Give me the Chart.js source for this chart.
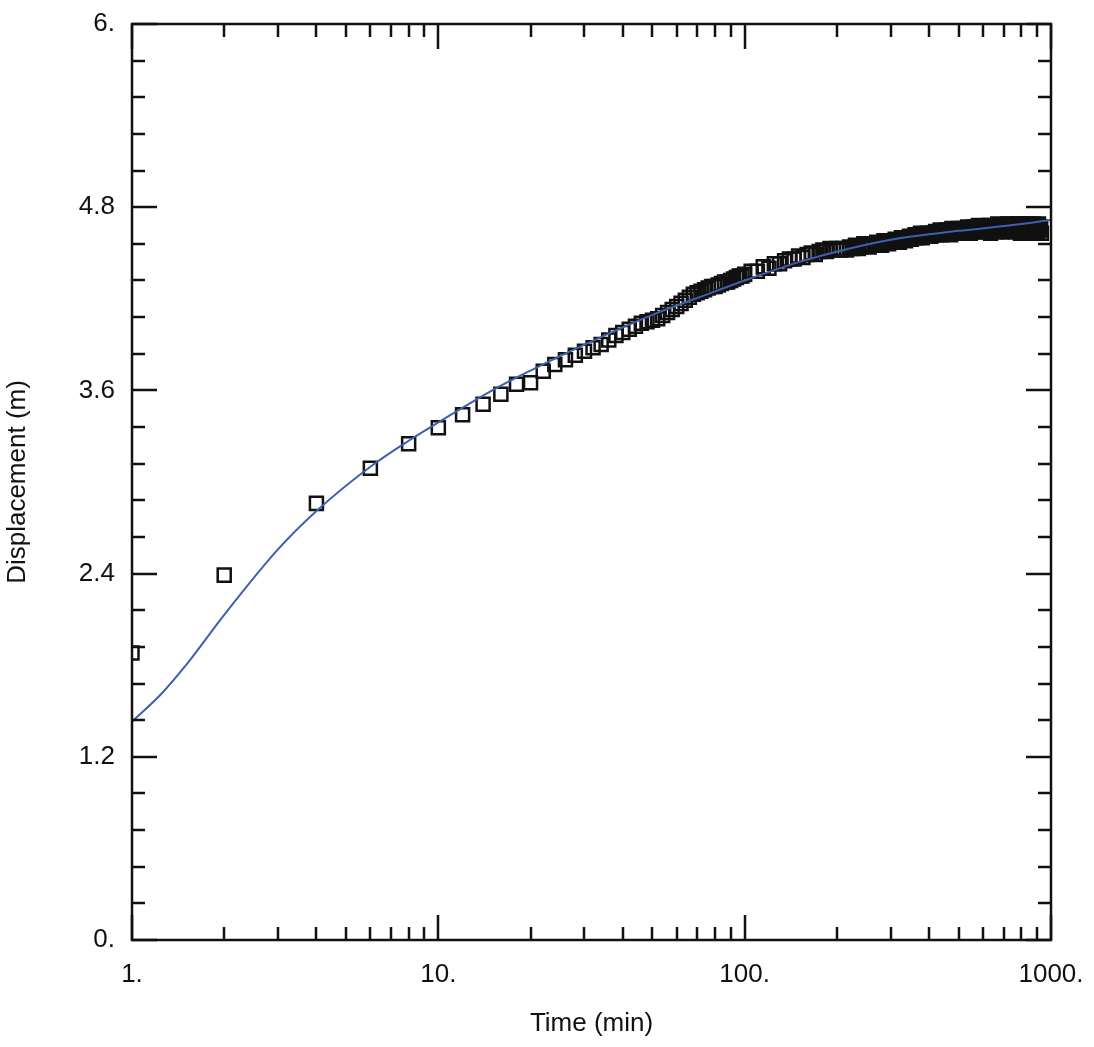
<!DOCTYPE html>
<html>
<head>
<meta charset="utf-8">
<script src="https://cdn.jsdelivr.net/npm/chart.js@4/dist/chart.umd.min.js"></script>
<style>
  html, body { margin: 0; padding: 0; background: #fff; }
  #wrap { width: 1094px; height: 1047px; }
</style>
</head>
<body>
<div id="wrap"><canvas id="c"></canvas></div>
<script>
// Observed displacement (squares)
const obsTime = [
  1, 2, 4, 6, 8, 10, 12, 14, 16, 18, 20, 22, 24, 26, 28, 30,
  32, 34, 36, 38, 40, 42, 44, 46, 48, 50, 52, 54, 56, 58, 60, 62, 64, 66, 68, 70,
  72, 74, 76, 78, 80, 82, 84, 86, 88, 90, 92, 94, 96, 98, 100,
  105, 110, 115, 120, 125, 130, 135, 140, 145, 150, 155, 160, 165, 170, 175, 180, 185, 190, 195, 200,
  205, 210, 215, 220, 225, 230, 235, 240, 245, 250,
  255, 260, 265, 270, 275, 280, 285, 290, 295, 300,
  305, 310, 315, 320, 325, 330, 335, 340, 345, 350,
  355, 360, 365, 370, 375, 380, 385, 390, 395, 400,
  405, 410, 415, 420, 425, 430, 435, 440, 445, 450,
  455, 460, 465, 470, 475, 480, 485, 490, 495, 500,
  505, 510, 515, 520, 525, 530, 535, 540, 545, 550,
  555, 560, 565, 570, 575, 580, 585, 590, 595, 600,
  605, 610, 615, 620, 625, 630, 635, 640, 645, 650,
  655, 660, 665, 670, 675, 680, 685, 690, 695, 700,
  705, 710, 715, 720, 725, 730, 735, 740, 745, 750,
  755, 760, 765, 770, 775, 780, 785, 790, 795, 800,
  805, 810, 815, 820, 825, 830, 835, 840, 845, 850,
  855, 860, 865, 870, 875, 880, 885, 890, 895, 900,
  905, 910, 915, 920, 925, 930
];
const obsDisp = [
  1.88, 2.39, 2.86, 3.09, 3.25, 3.355, 3.44, 3.51, 3.575, 3.64, 3.65, 3.725, 3.77, 3.80, 3.83, 3.856,
  3.88, 3.90, 3.93, 3.96, 3.98, 4.00, 4.02, 4.04, 4.05, 4.06, 4.07, 4.09, 4.11, 4.13, 4.15, 4.17, 4.19, 4.21, 4.23, 4.24,
  4.25, 4.26, 4.27, 4.28, 4.28, 4.29, 4.30, 4.31, 4.31, 4.32, 4.33, 4.34, 4.35, 4.35, 4.36,
  4.38, 4.38, 4.41, 4.40, 4.43, 4.43, 4.45, 4.46, 4.46, 4.48, 4.47, 4.49, 4.50, 4.49, 4.51, 4.52, 4.51, 4.53, 4.52, 4.53,
  4.52, 4.53, 4.52, 4.54, 4.53, 4.55, 4.53, 4.54, 4.56, 4.55,
  4.54, 4.56, 4.55, 4.57, 4.56, 4.55, 4.58, 4.57, 4.56, 4.58,
  4.57, 4.59, 4.58, 4.57, 4.60, 4.59, 4.58, 4.60, 4.61, 4.59,
  4.60, 4.62, 4.60, 4.61, 4.63, 4.60, 4.62, 4.61, 4.63, 4.62,
  4.61, 4.63, 4.62, 4.64, 4.62, 4.63, 4.65, 4.62, 4.64, 4.63,
  4.65, 4.63, 4.64, 4.62, 4.66, 4.64, 4.63, 4.65, 4.64, 4.66,
  4.64, 4.65, 4.63, 4.66, 4.65, 4.64, 4.67, 4.65, 4.63, 4.66,
  4.65, 4.67, 4.64, 4.66, 4.65, 4.68, 4.64, 4.66, 4.67, 4.65,
  4.66, 4.64, 4.67, 4.65, 4.68, 4.66, 4.63, 4.67, 4.65, 4.68,
  4.66, 4.64, 4.67, 4.69, 4.65, 4.66, 4.68, 4.64, 4.67, 4.66,
  4.68, 4.65, 4.67, 4.69, 4.64, 4.66, 4.68, 4.65, 4.67, 4.69,
  4.65, 4.67, 4.64, 4.68, 4.66, 4.69, 4.65, 4.67, 4.63, 4.68,
  4.66, 4.69, 4.64, 4.67, 4.65, 4.68, 4.66, 4.63, 4.69, 4.67,
  4.65, 4.68, 4.64, 4.66, 4.69, 4.65, 4.67, 4.63, 4.68, 4.66,
  4.64, 4.69, 4.66, 4.65, 4.67, 4.63
];

// Fitted curve (blue line)
const fitTime = [1, 1.25, 1.5, 2, 3, 4, 6, 8, 10, 15, 20, 30, 50, 70, 100, 150, 220, 320, 500, 800, 1000];
const fitDisp = [1.43, 1.615, 1.80, 2.13, 2.56, 2.81, 3.10, 3.27, 3.39, 3.60, 3.73, 3.90, 4.095, 4.205, 4.32, 4.44, 4.53, 4.597, 4.645, 4.69, 4.717];

// Axis ticks
const xTickVals = [1, 10, 100, 1000];
const xMinorVals = [2, 3, 4, 5, 6, 7, 8, 9, 20, 30, 40, 50, 60, 70, 80, 90, 200, 300, 400, 500, 600, 700, 800, 900];
const yTickVals = [0, 1.2, 2.4, 3.6, 4.8, 6];
const yMinorVals = [0.24, 0.48, 0.72, 0.96, 1.44, 1.68, 1.92, 2.16, 2.64, 2.88, 3.12, 3.36, 3.84, 4.08, 4.32, 4.56, 5.04, 5.28, 5.52, 5.76];

const FONT = '"Liberation Sans", Arial, sans-serif';
const INK = '#111';

// Frame plus inward tick marks on all four sides
const frameTicks = { id: 'frameTicks', afterDraw(chart) {
  const { ctx, chartArea: a, scales: { x, y } } = chart;
  ctx.save();
  ctx.strokeStyle = INK;
  ctx.lineWidth = 2.5;
  ctx.strokeRect(a.left, a.top, a.right - a.left, a.bottom - a.top);
  const MAJ = 25, MIN = 13;
  ctx.beginPath();
  const xt = (v, len) => {
    const px = Math.round(x.getPixelForValue(v));
    ctx.moveTo(px, a.bottom); ctx.lineTo(px, a.bottom - len);
    ctx.moveTo(px, a.top);    ctx.lineTo(px, a.top + len);
  };
  const yt = (v, len) => {
    const py = Math.round(y.getPixelForValue(v));
    ctx.moveTo(a.left, py);  ctx.lineTo(a.left + len, py);
    ctx.moveTo(a.right, py); ctx.lineTo(a.right - len, py);
  };
  xTickVals.forEach(v => xt(v, MAJ));
  xMinorVals.forEach(v => xt(v, MIN));
  yTickVals.forEach(v => yt(v, MAJ));
  yMinorVals.forEach(v => yt(v, MIN));
  ctx.stroke();
  ctx.restore();
}};

const fmt = v => (v === 0 || v === 6) ? v + '.' : v.toFixed(1);

new Chart(document.getElementById('c').getContext('2d'), {
  type: 'scatter',
  data: {
    datasets: [
      {
        label: 'fit',
        type: 'line',
        data: fitTime.map((t, i) => ({ x: t, y: fitDisp[i] })),
        borderColor: '#3f5fae',
        borderWidth: 2,
        pointRadius: 0,
        cubicInterpolationMode: 'monotone',
        fill: false,
        clip: 0,
        order: 1
      },
      {
        label: 'observed',
        data: obsTime.map((t, i) => ({ x: t, y: obsDisp[i] })),
        pointStyle: 'rect',
        pointRadius: 9.2,
        borderWidth: 2.5,
        pointBorderColor: INK,
        pointBackgroundColor: 'rgba(0,0,0,0)',
        clip: 0,
        order: 2
      }
    ]
  },
  options: {
    responsive: true,
    maintainAspectRatio: false,
    animation: false,
    events: [],
    layout: { padding: { left: 0, top: 24, right: 43, bottom: 0 } },
    plugins: { legend: { display: false }, tooltip: { enabled: false } },
    scales: {
      x: {
        type: 'logarithmic',
        min: 1, max: 1000,
        afterBuildTicks: s => { s.ticks = xTickVals.map(v => ({ value: v, major: true })); },
        afterFit: s => { s.height = 107; s.paddingLeft = 0; s.paddingRight = 0; },
        grid: { display: false, drawTicks: false },
        border: { display: false },
        ticks: {
          autoSkip: false, maxRotation: 0,
          padding: 19,
          color: INK,
          font: { family: FONT, size: 26 },
          callback: v => v + '.'
        },
        title: {
          display: true, text: 'Time (min)', color: INK,
          font: { family: FONT, size: 26 },
          padding: { top: 0, bottom: 8 }
        }
      },
      y: {
        min: 0, max: 6,
        afterBuildTicks: s => { s.ticks = yTickVals.map(v => ({ value: v })); },
        afterFit: s => { s.width = 132; s.paddingTop = 0; s.paddingBottom = 0; },
        grid: { display: false, drawTicks: false },
        border: { display: false },
        ticks: {
          autoSkip: false,
          padding: 17,
          color: INK,
          font: { family: FONT, size: 26 },
          callback: v => fmt(v)
        },
        title: {
          display: true, text: 'Displacement (m)', color: INK,
          font: { family: FONT, size: 26 },
          padding: { top: 2, bottom: 0 }
        }
      }
    }
  },
  plugins: [frameTicks]
});
</script>
</body>
</html>
